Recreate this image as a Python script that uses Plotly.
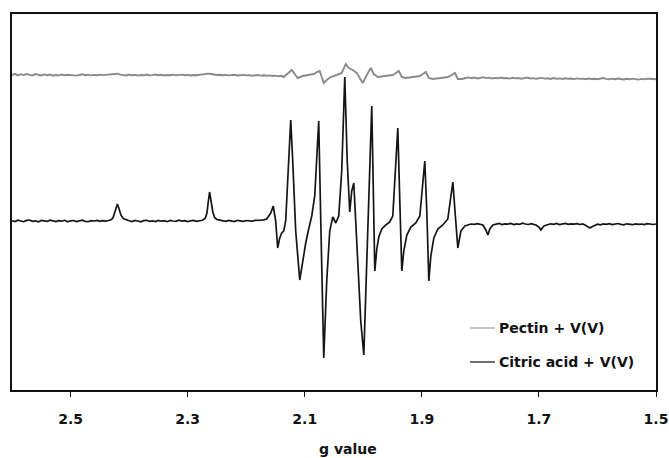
import plotly.graph_objects as go

# ---- data (g value, intensity in arbitrary units) ----
PECTIN = [
    (2.600, 146.0), (2.595, 147.2), (2.590, 145.6), (2.585, 146.8), (2.580, 145.9), (2.575, 147.0),
    (2.570, 146.1), (2.565, 145.4), (2.560, 146.9), (2.555, 146.2), (2.550, 145.5), (2.545, 146.6),
    (2.540, 145.8), (2.535, 146.4), (2.530, 145.3), (2.525, 146.0), (2.520, 145.6), (2.515, 146.5),
    (2.510, 145.7), (2.505, 146.3), (2.500, 145.9), (2.495, 146.2), (2.490, 145.4), (2.485, 146.0),
    (2.480, 146.7), (2.475, 145.8), (2.470, 146.3), (2.465, 145.6), (2.460, 146.1), (2.455, 145.7),
    (2.450, 146.4), (2.445, 145.9), (2.440, 146.2), (2.435, 146.5), (2.430, 147.0), (2.425, 146.9),
    (2.420, 147.3), (2.415, 146.4), (2.410, 146.0), (2.405, 145.5), (2.400, 146.3), (2.395, 145.8),
    (2.390, 146.1), (2.385, 145.4), (2.380, 146.0), (2.375, 145.7), (2.370, 146.4), (2.365, 145.6),
    (2.360, 145.9), (2.355, 146.5), (2.350, 145.8), (2.345, 146.2), (2.340, 145.5), (2.335, 146.0),
    (2.330, 145.7), (2.325, 146.3), (2.320, 145.6), (2.315, 145.9), (2.310, 146.4), (2.305, 145.8),
    (2.300, 146.1), (2.295, 145.5), (2.290, 146.0), (2.285, 145.7), (2.280, 146.2), (2.275, 146.6),
    (2.270, 146.9), (2.265, 147.4), (2.260, 147.0), (2.255, 146.5), (2.250, 146.0), (2.245, 146.3),
    (2.240, 145.7), (2.235, 146.1), (2.230, 145.6), (2.225, 145.9), (2.220, 146.2), (2.215, 145.5),
    (2.210, 145.8), (2.205, 146.1), (2.200, 145.6), (2.195, 145.9), (2.190, 145.3), (2.185, 145.8),
    (2.180, 146.0), (2.175, 145.4), (2.170, 145.7), (2.165, 145.2), (2.160, 145.6), (2.155, 145.0),
    (2.150, 145.4), (2.145, 144.8), (2.140, 145.2),
    (2.1359, 144.0), (2.1291, 148.0), (2.1222, 151.0), (2.1171, 147.0), (2.1120, 143.0),
    (2.1034, 145.0), (2.0932, 146.0), (2.0846, 147.0), (2.0795, 149.0), (2.0744, 150.0),
    (2.0709, 144.0), (2.0675, 138.0), (2.0624, 141.0), (2.0555, 144.0), (2.0453, 146.0),
    (2.0368, 148.0), (2.0299, 157.0), (2.0248, 153.0), (2.0180, 151.0), (2.0111, 148.0),
    (2.0060, 143.0), (2.0009, 138.0), (1.9940, 146.0), (1.9872, 153.0), (1.9821, 147.0),
    (1.9752, 144.0), (1.9632, 145.0), (1.9496, 146.0), (1.9444, 148.0), (1.9393, 150.0),
    (1.9342, 144.0), (1.9274, 143.0), (1.9154, 144.0), (1.9034, 145.0), (1.8983, 147.0),
    (1.8932, 149.0), (1.8880, 143.0), (1.8812, 142.0), (1.8675, 143.0), (1.8556, 144.0),
    (1.8487, 146.0), (1.8436, 148.0), (1.8385, 142.0), (1.8316, 142.0),
    (1.825, 143.0), (1.820, 143.6), (1.815, 142.8), (1.810, 143.4), (1.805, 142.6), (1.800, 143.2),
    (1.795, 143.8), (1.790, 142.9), (1.785, 143.3), (1.780, 142.5), (1.775, 143.1), (1.770, 142.7),
    (1.765, 143.5), (1.760, 142.8), (1.755, 143.0), (1.750, 142.4), (1.745, 143.2), (1.740, 142.6),
    (1.735, 143.0), (1.730, 142.3), (1.725, 142.9), (1.720, 143.4), (1.715, 142.5), (1.710, 142.9),
    (1.705, 142.2), (1.700, 142.8), (1.695, 143.1), (1.690, 142.4), (1.685, 142.7), (1.680, 142.1),
    (1.675, 142.9), (1.670, 142.3), (1.665, 142.6), (1.660, 142.0), (1.655, 142.7), (1.650, 142.2),
    (1.645, 142.5), (1.640, 141.9), (1.635, 142.6), (1.630, 142.1), (1.625, 142.4), (1.620, 141.8),
    (1.615, 142.5), (1.610, 142.0), (1.605, 142.3), (1.600, 141.7), (1.595, 142.4), (1.590, 142.9),
    (1.585, 142.1), (1.580, 141.6), (1.575, 142.3), (1.570, 141.8), (1.565, 142.5), (1.560, 142.0),
    (1.555, 141.5), (1.550, 142.2), (1.545, 141.7), (1.540, 142.4), (1.535, 141.9), (1.530, 141.4),
    (1.525, 142.1), (1.520, 141.6), (1.515, 142.3), (1.510, 141.8), (1.505, 142.0), (1.500, 141.7),
]

CITRIC = [
    (2.600, 0.3), (2.595, -0.5), (2.590, 0.8), (2.585, 0.0), (2.580, -0.7), (2.575, 0.6),
    (2.570, 1.0), (2.565, -0.3), (2.560, 0.2), (2.555, -0.9), (2.550, 0.5), (2.545, 0.1),
    (2.540, -0.4), (2.535, 0.9), (2.530, 0.0), (2.525, -0.6), (2.520, 0.4), (2.515, -0.2),
    (2.510, 0.7), (2.505, -0.8), (2.500, 0.2), (2.495, 0.5), (2.490, -0.5), (2.485, 0.1),
    (2.480, 0.8), (2.475, -0.3), (2.470, -0.7), (2.465, 0.4), (2.460, 0.0), (2.455, 0.6),
    (2.450, -0.4), (2.445, 0.3), (2.440, -0.2), (2.435, 0.5),
    (2.430, 1.5), (2.427, 4.0), (2.424, 10.0), (2.420, 17.0), (2.417, 12.0), (2.414, 6.0),
    (2.410, 2.5), (2.405, 1.0),
    (2.400, 0.2), (2.395, -0.6), (2.390, 0.5), (2.385, 0.0), (2.380, -0.8), (2.375, 0.4),
    (2.370, 0.7), (2.365, -0.3), (2.360, 0.1), (2.355, -0.5), (2.350, 0.6), (2.345, -0.2),
    (2.340, 0.3), (2.335, -0.7), (2.330, 0.5), (2.325, 0.0), (2.320, -0.4), (2.315, 0.8),
    (2.310, -0.1), (2.305, 0.3), (2.300, -0.6), (2.295, 0.2), (2.290, 0.6), (2.285, -0.3),
    (2.280, 0.1), (2.275, 0.7),
    (2.270, 2.5), (2.267, 8.0), (2.265, 18.0), (2.2625, 29.0), (2.260, 20.0), (2.257, 9.0),
    (2.254, 3.5), (2.250, 1.5),
    (2.245, 0.8), (2.240, 0.2), (2.235, -0.4), (2.230, 0.6), (2.225, 0.0), (2.220, -0.5),
    (2.215, 0.7), (2.210, 0.3), (2.205, -0.3), (2.200, 0.5), (2.195, 0.1), (2.190, -0.2),
    (2.185, 0.6), (2.180, 0.4), (2.175, 0.9), (2.170, 1.2),
    (2.1650, 2.0), (2.1581, 8.0), (2.1538, 15.0), (2.1496, 0.0), (2.1462, -27.0), (2.1427, -17.0),
    (2.1393, -12.0), (2.1359, -10.0), (2.1325, 0.0), (2.1291, 40.0), (2.1239, 101.0),
    (2.1205, 60.0), (2.1154, -10.0), (2.1085, -59.0), (2.1034, -40.0), (2.0983, -22.0),
    (2.0932, -8.0), (2.0880, 5.0), (2.0829, 25.0), (2.0795, 60.0), (2.0761, 100.0),
    (2.0726, 0.0), (2.0675, -137.0), (2.0624, -60.0), (2.0573, -10.0), (2.0521, 4.0),
    (2.0470, -2.0), (2.0419, 5.0), (2.0368, 50.0), (2.0316, 144.0), (2.0274, 60.0),
    (2.0231, 9.0), (2.0197, 30.0), (2.0162, 38.0), (2.0128, 0.0), (2.0094, -52.0),
    (2.0043, -100.0), (1.9991, -134.0), (1.9940, -40.0), (1.9889, 60.0), (1.9855, 115.0),
    (1.9803, -50.0), (1.9769, -28.0), (1.9735, -16.0), (1.9684, -8.0), (1.9615, -4.0),
    (1.9547, -1.0), (1.9496, 5.0), (1.9462, 40.0), (1.9410, 93.0), (1.9376, 20.0),
    (1.9342, -50.0), (1.9308, -30.0), (1.9256, -14.0), (1.9188, -6.0), (1.9103, -2.0),
    (1.9034, 5.0), (1.9000, 25.0), (1.8949, 60.0), (1.8915, 10.0), (1.8880, -60.0),
    (1.8846, -35.0), (1.8795, -17.0), (1.8726, -8.0), (1.8641, -4.0), (1.8556, 2.0),
    (1.8504, 25.0), (1.8470, 39.0), (1.8427, 5.0), (1.8385, -27.0), (1.8333, -10.0),
    (1.8265, -5.0), (1.8162, -3.0),
    (1.8100, -3.3), (1.8050, -2.6), (1.8000, -3.4), (1.7957, -4.0), (1.7906, -9.0),
    (1.7872, -14.0), (1.7838, -8.0), (1.7786, -4.0), (1.7730, -3.2), (1.7680, -2.5),
    (1.7630, -3.5), (1.7580, -2.8), (1.7530, -3.1), (1.7480, -2.4), (1.7430, -3.6),
    (1.7380, -2.9), (1.7330, -3.3), (1.7280, -2.2), (1.7230, -3.0), (1.7180, -3.5),
    (1.7130, -2.6), (1.7080, -3.2), (1.7051, -4.0), (1.7000, -6.0), (1.6966, -9.0),
    (1.6915, -5.0), (1.6846, -3.5), (1.6800, -2.8), (1.6750, -3.3), (1.6700, -2.5),
    (1.6650, -3.6), (1.6600, -3.0), (1.6550, -2.4), (1.6500, -3.4), (1.6450, -2.9),
    (1.6400, -3.2), (1.6350, -2.6), (1.6300, -3.5), (1.6250, -3.0), (1.6214, -4.0),
    (1.6170, -5.5), (1.6128, -7.0), (1.6085, -5.5), (1.6043, -4.0), (1.6000, -3.2),
    (1.5950, -3.8), (1.5900, -2.9), (1.5850, -3.4), (1.5800, -2.7), (1.5750, -3.6),
    (1.5700, -3.1), (1.5650, -2.5), (1.5600, -3.3), (1.5550, -3.9), (1.5500, -2.8),
    (1.5450, -3.2), (1.5400, -3.7), (1.5350, -2.9), (1.5300, -3.4), (1.5250, -3.0),
    (1.5200, -3.6), (1.5150, -2.7), (1.5100, -3.3), (1.5050, -3.5), (1.5000, -3.0),
]

SERIES_NAMES = ["Pectin + V(V)", "Citric acid + V(V)"]
TICK_VALUES = [2.5, 2.3, 2.1, 1.9, 1.7, 1.5]
TICK_LABELS = ["2.5", "2.3", "2.1", "1.9", "1.7", "1.5"]
X_TITLE = "g value"

pectin_g, pectin_i = zip(*PECTIN)
citric_g, citric_i = zip(*CITRIC)

FONT = "DejaVu Sans"

fig = go.Figure()
fig.add_trace(go.Scatter(x=pectin_g, y=pectin_i, mode="lines", name=SERIES_NAMES[0],
                         line=dict(color="#8a8a8a", width=1.9), showlegend=False))
fig.add_trace(go.Scatter(x=citric_g, y=citric_i, mode="lines", name=SERIES_NAMES[1],
                         line=dict(color="#151515", width=1.7), showlegend=False))

# legend drawn manually (lower right, inside frame)
L = 12
W = 644
H = 376
def px_x(p):
    return (p - L) / W
def px_y(p):
    return (390 - p) / H

legend_rows = [(SERIES_NAMES[0], "#a8a8a8", 328), (SERIES_NAMES[1], "#222222", 362)]
for name, col, yy in legend_rows:
    fig.add_shape(type="line", xref="paper", yref="paper",
                  x0=px_x(470), x1=px_x(495), y0=px_y(yy), y1=px_y(yy),
                  line=dict(color=col, width=1.3))
    fig.add_annotation(text="<b>%s</b>" % name, xref="paper", yref="paper",
                       x=px_x(497), y=px_y(yy), xanchor="left", yanchor="middle",
                       showarrow=False, font=dict(family=FONT, size=14, color="#111"))

fig.add_annotation(text="<b>%s</b>" % X_TITLE, xref="paper", yref="paper",
                   x=px_x(348), y=px_y(449), xanchor="center", yanchor="middle",
                   showarrow=False, font=dict(family=FONT, size=14, color="#111"))

fig.update_layout(
    width=669, height=458,
    margin=dict(l=12, r=13, t=14, b=68, autoexpand=False),
    paper_bgcolor="white", plot_bgcolor="white",
    xaxis=dict(range=[2.6, 1.5], tickvals=TICK_VALUES, ticktext=TICK_LABELS,
               showgrid=False, zeroline=False, showline=True, mirror=True,
               linecolor="#111", linewidth=2, ticks="outside", ticklen=5,
               tickwidth=1.2, tickcolor="#111", ticklabelstandoff=10, automargin=False,
               tickfont=dict(family=FONT, size=14, color="#111", weight="bold")),
    yaxis=dict(range=[-169, 207], showgrid=False, zeroline=False, showline=True,
               mirror=True, linecolor="#111", linewidth=2, showticklabels=False,
               ticks="", automargin=False),
)

fig.write_html("out.html", config={"displayModeBar": False},
               post_script="document.body.style.margin='0px';document.body.style.overflow='hidden';")
